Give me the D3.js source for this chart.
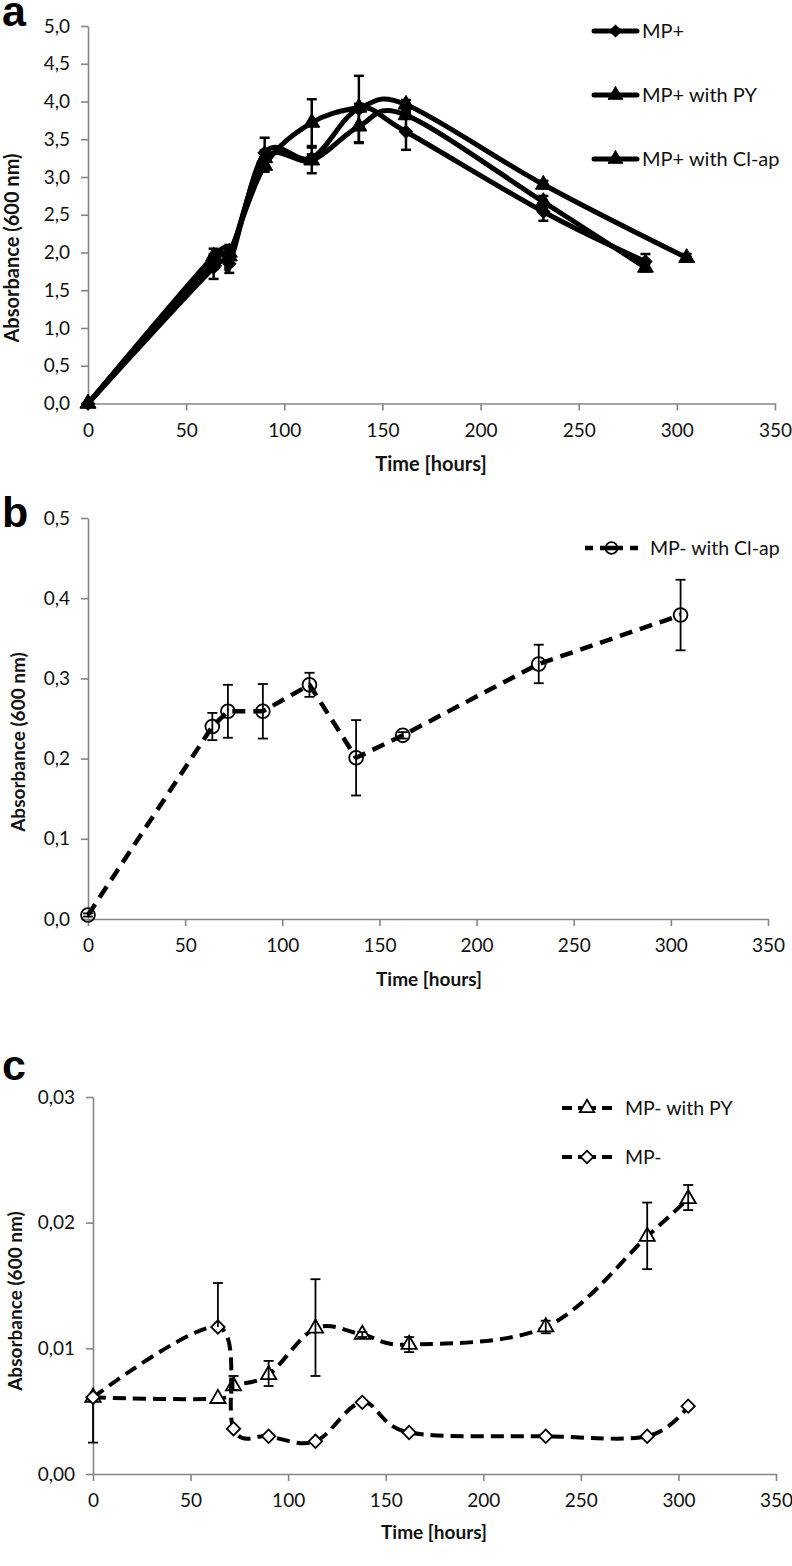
<!DOCTYPE html>
<html>
<head>
<meta charset="utf-8">
<script src="https://cdn.jsdelivr.net/npm/d3@7"></script>
<style>
  html, body { margin: 0; padding: 0; background: #fff; }
  svg { display: block; font-family: Lato, "Open Sans", sans-serif; }
</style>
</head>
<body>
<svg id="chart" width="792" height="1566"></svg>
<script>
// ---------- Panel a data ----------
const timesA = [0, 64, 72, 90, 114, 138, 162, 232, 284];
const timesA_Cl = [0, 64, 72, 90, 114, 138, 162, 232, 305];
const mpPlus = [0, 1.80, 1.85, 3.32, 3.25, 3.90, 3.60, 2.54, 1.88];
const mpPlusErr = [0, 0.15, 0.12, 0.20, 0.05, 0.44, 0.24, 0.12, 0.10];
const mpPlusPY = [0, 1.88, 1.95, 3.25, 3.22, 3.67, 3.82, 2.67, 1.80];
const mpPlusPYErr = [0, 0.10, 0.10, 0.10, 0.17, 0.22, 0.05, 0.08, 0.05];
const mpPlusCl = [0, 1.95, 2.00, 3.15, 3.72, 3.92, 3.96, 2.90, 1.93];
const mpPlusClErr = [0, 0.10, 0.10, 0.08, 0.31, 0.05, 0.06, 0.05, 0.05];
const yTicksA = [0, 0.5, 1, 1.5, 2, 2.5, 3, 3.5, 4, 4.5, 5];

// ---------- Panel b data ----------
const timesB = [0, 64, 72, 90, 114, 138, 162, 232, 305];
const mpMinusCl = [0.005, 0.240, 0.259, 0.259, 0.292, 0.201, 0.229, 0.318, 0.379];
const mpMinusClErr = [0.002, 0.017, 0.033, 0.034, 0.015, 0.047, 0.004, 0.024, 0.044];
const yTicksB = [0, 0.1, 0.2, 0.3, 0.4, 0.5];

// ---------- Panel c data ----------
const timesC = [0, 64, 72, 90, 114, 138, 162, 232, 284, 305];
const mpMinusPY = [0.0061, 0.0060, 0.0070, 0.0079, 0.0116, 0.0111, 0.0103, 0.0117, 0.0189, 0.0219];
const mpMinusPYErrLow = [0.0036, 0, 0.0003, 0.0009, 0.0038, 0.0002, 0.0006, 0.0005, 0.0026, 0.0009];
const mpMinusPYErrHigh = [0, 0, 0.0008, 0.0011, 0.0039, 0.0002, 0.0006, 0.0005, 0.0027, 0.0011];
const mpMinus = [0.0061, 0.0117, 0.0036, 0.0030, 0.0026, 0.0057, 0.0033, 0.0030, 0.0030, 0.0054];
const mpMinusErrLow = [0, 0, 0, 0, 0, 0, 0, 0, 0, 0];
const mpMinusErrHigh = [0, 0.0035, 0, 0, 0, 0, 0, 0, 0, 0];
const yTicksC = [0, 0.01, 0.02, 0.03];

const xTicks = [0, 50, 100, 150, 200, 250, 300, 350];

const svg = d3.select("#chart");
const AXIS = "#868686";

function commaFmt(dec) { return d => d.toFixed(dec).replace(".", ","); }

function drawPanel(cfg) {
  const x = d3.scaleLinear().domain([0, 350]).range([cfg.x0, cfg.x1]);
  const y = d3.scaleLinear().domain(cfg.yDomain).range([cfg.y0, cfg.y1]);
  const g = svg.append("g");

  const ya = g.append("g").attr("transform", `translate(${cfg.x0},0)`)
    .call(d3.axisLeft(y).tickValues(cfg.yTicks).tickFormat(commaFmt(cfg.dec)).tickSize(7).tickSizeOuter(0).tickPadding(11));
  const xa = g.append("g").attr("transform", `translate(0,${cfg.y0})`)
    .call(d3.axisBottom(x).tickValues(xTicks).tickSize(7).tickSizeOuter(0).tickPadding(13));
  [ya, xa].forEach(a => {
    a.select(".domain").attr("stroke", AXIS).attr("stroke-width", 1.6);
    a.selectAll(".tick line").attr("stroke", AXIS).attr("stroke-width", 1.6);
    a.selectAll("text").attr("fill", "#111").style("font-size", cfg.fs + "px").style("font-family", "Lato, sans-serif");
  });

  g.append("text").attr("x", cfg.xtX).attr("y", cfg.xtY).attr("text-anchor", "middle")
    .style("font-weight", "bold").style("font-size", cfg.tfs + "px").attr("fill", "#111").text("Time [hours]");
  g.append("text").attr("transform", `translate(${cfg.ytX},${cfg.ytY}) rotate(-90)`).attr("text-anchor", "middle")
    .attr("dy", "0.35em").style("font-weight", "bold").style("font-size", cfg.tfs + "px").attr("fill", "#111")
    .text("Absorbance (600 nm)");
  g.append("text").attr("x", 2).attr("y", cfg.letterY).style("font-family", "'Liberation Sans', Arial, sans-serif")
    .style("font-weight", "bold").style("font-size", "43px").attr("fill", "#000").text(cfg.letter);

  return { x, y, g };
}

function markerPath(type, size) {
  if (type === "triangle") return d3.symbol(d3.symbolTriangle, size)();
  if (type === "diamond") return d3.symbol(d3.symbolSquare, size)();
  return d3.symbol(d3.symbolCircle, size)();
}

function drawSeries(p, s) {
  const pts = s.t.map((t, i) => ({ t, v: s.v[i], lo: s.lo[i], hi: s.hi[i] }));
  const line = d3.line().x(d => p.x(d.t)).y(d => p.y(d.v)).curve(s.curve);
  p.g.append("path").datum(pts).attr("d", line).attr("fill", "none").attr("stroke", "#000")
    .attr("stroke-width", s.lw).attr("stroke-dasharray", s.dash || null).attr("stroke-linecap", s.dash ? "butt" : "round")
    .attr("stroke-linejoin", "round");
  const drawErr = () => {
    const eg = p.g.append("g").attr("stroke", "#000").attr("stroke-width", s.ew);
    pts.forEach(d => {
      if (d.lo === 0 && d.hi === 0) return;
      const cx = p.x(d.t);
      const yt = p.y(d.v + d.hi), yb = p.y(d.v - d.lo);
      eg.append("line").attr("x1", cx).attr("x2", cx).attr("y1", yt).attr("y2", yb);
      if (d.hi > 0) eg.append("line").attr("x1", cx - 5).attr("x2", cx + 5).attr("y1", yt).attr("y2", yt);
      if (d.lo > 0) eg.append("line").attr("x1", cx - 5).attr("x2", cx + 5).attr("y1", yb).attr("y2", yb);
    });
  };
  if (!s.errOnTop) drawErr();
  p.g.append("g").selectAll("path").data(pts).join("path")
    .attr("d", markerPath(s.marker, s.msize))
    .attr("transform", d => `translate(${p.x(d.t)},${p.y(d.v)})` + (s.marker === "diamond" ? " rotate(45)" : ""))
    .attr("fill", s.mfill).attr("stroke", "#000").attr("stroke-width", s.mstroke);
  if (s.errOnTop) drawErr();
}

function legendItem(p, L) {
  p.g.append("line").attr("x1", L.x1).attr("x2", L.x2).attr("y1", L.y).attr("y2", L.y)
    .attr("stroke", "#000").attr("stroke-width", L.lw).attr("stroke-dasharray", L.dash || null)
    .attr("stroke-linecap", L.dash ? "butt" : "round");
  p.g.append("path").attr("d", markerPath(L.marker, L.msize))
    .attr("transform", `translate(${(L.x1 + L.x2) / 2},${L.y})` + (L.marker === "diamond" ? " rotate(45)" : ""))
    .attr("fill", L.mfill).attr("stroke", "#000").attr("stroke-width", L.mstroke);
  p.g.append("text").attr("x", L.tx).attr("y", L.y).attr("dy", "0.35em").style("font-size", L.fs + "px")
    .attr("fill", "#111").text(L.label);
}

// ---------- Panel a ----------
const pa = drawPanel({ x0: 88, x1: 775, y0: 403.5, y1: 26, yDomain: [0, 5], yTicks: yTicksA, dec: 1,
  fs: 19, tfs: 20, xtX: 431, xtY: 471, ytX: 12, ytY: 248, letter: "a", letterY: 26 });
const curveA = d3.curveCatmullRom.alpha(0);
drawSeries(pa, { t: timesA, v: mpPlus, lo: mpPlusErr, hi: mpPlusErr, curve: curveA, lw: 5, ew: 2.5,
  marker: "diamond", msize: 85, mfill: "#000", mstroke: 1 });
drawSeries(pa, { t: timesA, v: mpPlusPY, lo: mpPlusPYErr, hi: mpPlusPYErr, curve: curveA, lw: 5, ew: 2.5,
  marker: "triangle", msize: 110, mfill: "#000", mstroke: 1 });
drawSeries(pa, { t: timesA_Cl, v: mpPlusCl, lo: mpPlusClErr, hi: mpPlusClErr, curve: curveA, lw: 5, ew: 2.5,
  marker: "triangle", msize: 110, mfill: "#000", mstroke: 1 });
legendItem(pa, { x1: 594, x2: 637, y: 31, lw: 5, marker: "diamond", msize: 70, mfill: "#000", mstroke: 1, tx: 642, fs: 20, label: "MP+" });
legendItem(pa, { x1: 594, x2: 637, y: 95, lw: 5, marker: "triangle", msize: 95, mfill: "#000", mstroke: 1, tx: 642, fs: 20, label: "MP+ with PY" });
legendItem(pa, { x1: 594, x2: 637, y: 159, lw: 5, marker: "triangle", msize: 95, mfill: "#000", mstroke: 1, tx: 642, fs: 20, label: "MP+ with Cl-ap" });

// ---------- Panel b ----------
const pb = drawPanel({ x0: 88, x1: 768, y0: 919, y1: 518, yDomain: [0, 0.5], yTicks: yTicksB, dec: 1,
  fs: 19, tfs: 19, xtX: 429, xtY: 986, ytX: 18, ytY: 742, letter: "b", letterY: 527 });
drawSeries(pb, { t: timesB, v: mpMinusCl, lo: mpMinusClErr, hi: mpMinusClErr, curve: d3.curveLinear, lw: 4.5,
  dash: "13,8", ew: 1.8, marker: "circle", msize: 150, mfill: "none", mstroke: 1.8 });
legendItem(pb, { x1: 585, x2: 638, y: 548, lw: 4.5, dash: "8,7,23,7,8", marker: "circle", msize: 110, mfill: "none", mstroke: 1.8,
  tx: 650, fs: 19.5, label: "MP- with Cl-ap" });

// ---------- Panel c ----------
const pc = drawPanel({ x0: 93, x1: 776, y0: 1474, y1: 1097, yDomain: [0, 0.03], yTicks: yTicksC, dec: 2,
  fs: 19, tfs: 19, xtX: 434, xtY: 1539, ytX: 15, ytY: 1301, letter: "c", letterY: 1080 });
drawSeries(pc, { t: timesC, v: mpMinusPY, lo: mpMinusPYErrLow, hi: mpMinusPYErrHigh, curve: curveA, lw: 4,
  dash: "13,7", ew: 1.8, marker: "triangle", msize: 100, mfill: "#fff", mstroke: 1.8, errOnTop: true });
drawSeries(pc, { t: timesC, v: mpMinus, lo: mpMinusErrLow, hi: mpMinusErrHigh, curve: curveA, lw: 4,
  dash: "13,7", ew: 1.8, marker: "diamond", msize: 90, mfill: "#fff", mstroke: 1.8, errOnTop: true });
legendItem(pc, { x1: 562, x2: 612, y: 1108, lw: 4, dash: "10,6,18,6,10", marker: "triangle", msize: 90, mfill: "#fff", mstroke: 1.8,
  tx: 625, fs: 19.5, label: "MP- with PY" });
legendItem(pc, { x1: 562, x2: 612, y: 1157, lw: 4, dash: "10,6,18,6,10", marker: "diamond", msize: 80, mfill: "#fff", mstroke: 1.8,
  tx: 625, fs: 19.5, label: "MP-" });
</script>
</body>
</html>
